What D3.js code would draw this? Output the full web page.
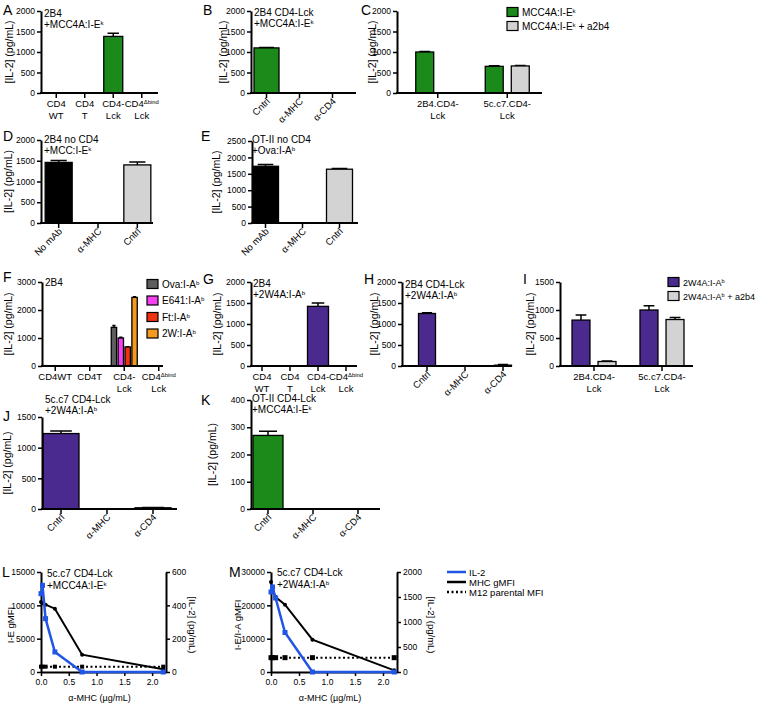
<!DOCTYPE html>
<html><head><meta charset="utf-8">
<script src="https://cdn.jsdelivr.net/npm/d3@7"></script>
<style>
body{margin:0;background:#fff}
svg{display:block}
text{font-family:"Liberation Sans",Arial,Helvetica,sans-serif;fill:#000}
</style>
</head><body><script>
// ---------------- DATA ----------------
const catsTcell = ["CD4|WT","CD4|T","CD4-|Lck","CD4{Δbind}|Lck"];
const catsTcellF = ["CD4WT","CD4T","CD4-|Lck","CD4{Δbind}|Lck"];
const catsAb = ["Cntrl","α-MHC","α-CD4"];
const catsNoCD4 = ["No mAb","α-MHC","Cntrl"];
const catsLines = ["2B4.CD4-|Lck","5c.c7.CD4-|Lck"];

const il2A = [0,0,1380,0],     errA = [0,0,80,0];
const il2B = [1100,0,0],       errB = [8,0,0];
const il2C_mcc = [1000,650],   errC_mcc = [10,15];
const il2C_a2b4 = [0,660],     errC_a2b4 = [0,10];
const seriesC = ["MCC4A:I-E{k}","MCC4A:I-E{k} + a2b4"];
const il2D = [1460,0,1400],    errD = [45,0,70];
const il2E = [1730,0,1640],    errE = [50,0,20];
const seriesF = ["Ova:I-A{b}","E641:I-A{b}","Ft:I-A{b}","2W:I-A{b}"];
const il2F_ova = [15,0,1380,0],  errF_ova = [0,0,70,0];
const il2F_e641 = [0,0,1000,0],  errF_e641 = [0,0,30,0];
const il2F_ft = [0,0,680,0],     errF_ft = [0,0,10,0];
const il2F_2w = [0,0,2450,0],    errF_2w = [0,0,20,0];
const il2G = [0,0,1420,0],     errG = [0,0,80,0];
const il2H = [1250,0,20],      errH = [15,0,15];
const seriesI = ["2W4A:I-A{b}","2W4A:I-A{b} + a2b4"];
const il2I_2w = [820,1000],    errI_2w = [90,75];
const il2I_a2b4 = [80,830],    errI_a2b4 = [10,35];
const il2J = [1230,5,20],      errJ = [40,0,5];
const il2K = [270,0,0],        errK = [15,0,0];

const doses = [0,0.027,0.082,0.25,0.74,2.2];
const xTicksDose = [0,0.5,1.0,1.5,2.0];
const L_il2 = [470,520,320,120,0,0];
const L_mhc = [10500,10300,10100,9500,2600,400];
const L_m12 = [800,800,800,800,800,800];
const M_il2 = [1600,1700,1480,790,0,0];
const M_mhc = [27000,24500,22500,20200,9700,500];
const M_m12 = [4300,4300,4300,4300,4300,4300];
const legendM = ["IL-2","MHC gMFI","M12 parental MFI"];

// ---------------- STYLE ----------------
const GREEN="#1b8a1b", GREY="#d3d3d3", BLACK="#000", PURPLE="#4a2a8e",
      DGREY="#5d5d5d", MAGENTA="#f540f2", RED="#ef3210", ORANGE="#f59a1e", BLUE="#2155e6";

const W=760,H=704;
const svg=d3.select("body").append("svg").attr("width",W).attr("height",H);

function rich(t,str){
  str.split(/(\{[^}]*\})/).filter(s=>s).forEach(p=>{
    if(p[0]==="{") t.append("tspan").attr("baseline-shift","super").attr("font-size","62%").text(p.slice(1,-1));
    else t.append("tspan").text(p);
  });
  return t;
}
function txt(x,y,str,size,anchor){
  const t=svg.append("text").attr("x",x).attr("y",y).attr("font-size",size).attr("text-anchor",anchor||"start");
  return rich(t,str);
}

function barPanel(p){
  const g=svg.append("g");
  const y=d3.scaleLinear().domain([0,p.max]).range([p.y0,p.yTop]);
  const x=d3.scaleBand().domain(d3.range(p.cats.length)).range(p.xr);
  const nS=p.series.length;
  const xs=d3.scaleBand().domain(d3.range(nS)).range(p.inner||[0,0]).paddingInner(p.innerPad||0);
  const cxOf=(i,si)=>x(i)+x.bandwidth()/2+(nS>1?xs(si)+xs.bandwidth()/2:0);
  const bw=nS>1?xs.bandwidth():p.barW;
  p.series.forEach((s,si)=>{
    const d=s.values.map((v,i)=>({v,e:s.errors[i],i}));
    const col=i=>Array.isArray(s.color)?s.color[i]:s.color;
    g.selectAll(null).data(d.filter(o=>o.e>0)).join("path")
      .attr("d",o=>{const cx=cxOf(o.i,si),cw=bw*0.3;
        return `M${cx},${y(o.v)}V${y(o.v+o.e)}M${cx-cw},${y(o.v+o.e)}H${cx+cw}`;})
      .attr("stroke","#000").attr("stroke-width",1.5).attr("fill","none");
    g.selectAll(null).data(d.filter(o=>o.v>0)).join("rect")
      .attr("x",o=>cxOf(o.i,si)-bw/2).attr("width",bw)
      .attr("y",o=>y(o.v)).attr("height",o=>p.y0-y(o.v))
      .attr("fill",o=>col(o.i)).attr("stroke","#000").attr("stroke-width",1.3);
  });
  const ya=g.append("g").attr("transform",`translate(${p.x0},0)`)
    .call(d3.axisLeft(y).tickValues(d3.range(0,p.max+1e-6,p.step)).tickSize(4).tickSizeOuter(0).tickPadding(2).tickFormat(d3.format("d")));
  ya.attr("font-size",8.5);
  ya.select(".domain").attr("stroke-width",2);
  ya.selectAll(".tick line").attr("stroke-width",1.5);
  g.append("line").attr("x1",p.x0-1).attr("x2",p.xEnd).attr("y1",p.y0).attr("y2",p.y0).attr("stroke","#000").attr("stroke-width",2);
  g.selectAll(null).data(p.cats).join("line")
    .attr("x1",(c,i)=>x(i)+x.bandwidth()/2).attr("x2",(c,i)=>x(i)+x.bandwidth()/2)
    .attr("y1",p.y0).attr("y2",p.y0+5).attr("stroke","#000").attr("stroke-width",1.5);
  p.cats.forEach((c,i)=>{
    const cx=x(i)+x.bandwidth()/2;
    if(p.rot){
      const t=svg.append("text").attr("font-size",9.5).attr("text-anchor","end")
        .attr("transform",`translate(${cx+4},${p.y0+9}) rotate(-45)`);
      rich(t,c);
    } else {
      c.split("|").forEach((ln,k)=>txt(cx,p.y0+14+k*11.5,ln,9.5,"middle"));
    }
  });
  svg.append("text").attr("font-size",10.5).attr("text-anchor","middle").attr("dominant-baseline","central")
    .attr("transform",`translate(${p.ylx},${(p.y0+p.yTop)/2}) rotate(-90)`).text("[IL-2] (pg/mL)");
  txt(p.lx,p.ly,p.letter,14);
  (p.title||[]).forEach((ln,k)=>txt(p.tx,p.ty+k*11,ln,10));
  if(p.legend){
    p.legend.items.forEach((it,k)=>{
      const yy=p.legend.y+k*p.legend.dy;
      svg.append("rect").attr("x",p.legend.x).attr("y",yy-4.5).attr("width",11).attr("height",9)
        .attr("fill",it.color).attr("stroke","#000").attr("stroke-width",1.2);
      txt(p.legend.x+15,yy+3.5,it.name,p.legend.fs||10);
    });
  }
}

barPanel({letter:"A",lx:3,ly:15,x0:41,xEnd:158,y0:93,yTop:11,max:2000,step:500,xr:[42,156],barW:19,
  cats:catsTcell,series:[{values:il2A,errors:errA,color:GREEN}],ylx:9,title:["2B4","+MCC4A:I-E{k}"],tx:44,ty:17});
barPanel({letter:"B",lx:203,ly:15,x0:251,xEnd:356,y0:93,yTop:11,max:2000,step:500,xr:[250,349],barW:25,rot:true,
  cats:catsAb,series:[{values:il2B,errors:errB,color:GREEN}],ylx:223,title:["2B4 CD4-Lck","+MCC4A:I-E{k}"],tx:254,ty:16});
barPanel({letter:"C",lx:361,ly:15,x0:397,xEnd:542,y0:93,yTop:11,max:2000,step:500,xr:[403,542],inner:[-22,22],innerPad:0.31,
  cats:catsLines,series:[{values:il2C_mcc,errors:errC_mcc,color:GREEN},{values:il2C_a2b4,errors:errC_a2b4,color:GREY}],ylx:372,
  legend:{x:507,y:12,dy:14,items:[{name:seriesC[0],color:GREEN},{name:seriesC[1],color:GREY}]}});
barPanel({letter:"D",lx:3,ly:141,x0:41,xEnd:153,y0:223,yTop:140,max:2000,step:500,xr:[39,157],barW:27,rot:true,
  cats:catsNoCD4,series:[{values:il2D,errors:errD,color:[BLACK,BLACK,GREY]}],ylx:8,title:["2B4 no CD4","+MCC:I-E{k}"],tx:44,ty:143});
barPanel({letter:"E",lx:201,ly:141,x0:252,xEnd:358,y0:223,yTop:141,max:2500,step:500,xr:[247,358],barW:26,rot:true,
  cats:catsNoCD4,series:[{values:il2E,errors:errE,color:[BLACK,BLACK,GREY]}],ylx:216,title:["OT-II no CD4","+Ova:I-A{b}"],tx:252,ty:143});
barPanel({letter:"F",lx:3,ly:282,x0:42,xEnd:163,y0:366,yTop:282,max:3000,step:1000,xr:[38,176],inner:[-13,13],innerPad:0.22,
  cats:catsTcellF,series:[{values:il2F_ova,errors:errF_ova,color:DGREY},{values:il2F_e641,errors:errF_e641,color:MAGENTA},
    {values:il2F_ft,errors:errF_ft,color:RED},{values:il2F_2w,errors:errF_2w,color:ORANGE}],ylx:8,title:["2B4"],tx:45,ty:286,
  legend:{x:147,y:284,dy:16.5,items:seriesF.map((n,i)=>({name:n,color:[DGREY,MAGENTA,RED,ORANGE][i]}))}});
barPanel({letter:"G",lx:203,ly:284,x0:251,xEnd:357,y0:366,yTop:282,max:2000,step:500,xr:[248,360],barW:21,
  cats:catsTcell,series:[{values:il2G,errors:errG,color:PURPLE}],ylx:217,title:["2B4","+2W4A:I-A{b}"],tx:253,ty:287});
barPanel({letter:"H",lx:364,ly:284,x0:402,xEnd:512,y0:366,yTop:282,max:2000,step:500,xr:[408,522],barW:17,rot:true,
  cats:catsAb,series:[{values:il2H,errors:errH,color:PURPLE}],ylx:374,title:["2B4 CD4-Lck","+2W4A:I-A{b}"],tx:405,ty:288});
barPanel({letter:"I",lx:523,ly:284,x0:560,xEnd:693,y0:366,yTop:282,max:1500,step:500,xr:[560,696],inner:[-22,22],innerPad:0.31,
  cats:catsLines,series:[{values:il2I_2w,errors:errI_2w,color:PURPLE},{values:il2I_a2b4,errors:errI_a2b4,color:GREY}],ylx:530,
  legend:{x:668,y:282,dy:14,fs:9,items:[{name:seriesI[0],color:PURPLE},{name:seriesI[1],color:GREY}]}});
barPanel({letter:"J",lx:3,ly:421,x0:42,xEnd:177,y0:509,yTop:417,max:1500,step:500,xr:[38,176],barW:36,rot:true,
  cats:catsAb,series:[{values:il2J,errors:errJ,color:PURPLE}],ylx:7,title:["5c.c7 CD4-Lck","+2W4A:I-A{b}"],tx:45,ty:403});
barPanel({letter:"K",lx:201,ly:405,x0:251,xEnd:380,y0:509,yTop:400,max:400,step:100,xr:[245.5,380.5],barW:30,rot:true,
  cats:catsAb,series:[{values:il2K,errors:errK,color:GREEN}],ylx:212,title:["OT-II CD4-Lck","+MCC4A:I-E{k}"],tx:252,ty:402});

function linePanel(p){
  const g=svg.append("g");
  const x=d3.scaleLinear().domain([0,2.25]).range([p.x0,p.x1]);
  const yl=d3.scaleLinear().domain([0,p.lmax]).range([p.y0,p.yTop]);
  const yr=d3.scaleLinear().domain([0,p.rmax]).range([p.y0,p.yTop]);
  const styleAx=(a)=>{a.attr("font-size",8.5);a.select(".domain").attr("stroke-width",2);a.selectAll(".tick line").attr("stroke-width",1.5);};
  styleAx(g.append("g").attr("transform",`translate(${p.x0},0)`)
    .call(d3.axisLeft(yl).tickValues(d3.range(0,p.lmax+1,p.lstep)).tickSize(4).tickSizeOuter(0).tickPadding(2).tickFormat(d3.format("d"))));
  styleAx(g.append("g").attr("transform",`translate(${p.x1},0)`)
    .call(d3.axisRight(yr).tickValues(d3.range(0,p.rmax+1,p.rstep)).tickSize(4).tickSizeOuter(0).tickPadding(2).tickFormat(d3.format("d"))));
  styleAx(g.append("g").attr("transform",`translate(0,${p.y0})`)
    .call(d3.axisBottom(x).tickValues(xTicksDose).tickSize(4).tickSizeOuter(0).tickPadding(3).tickFormat(d3.format(".1f"))));
  const lineL=d3.line().x((d,i)=>x(doses[i])).y(d=>yl(d));
  const lineR=d3.line().x((d,i)=>x(doses[i])).y(d=>yr(d));
  g.append("path").attr("d",lineL(p.m12)).attr("fill","none").attr("stroke","#000").attr("stroke-width",2).attr("stroke-dasharray","2,2.5");
  g.selectAll(null).data(p.m12).join("rect").attr("x",(d,i)=>x(doses[i])-p.ms/2).attr("y",d=>yl(d)-p.ms/2)
    .attr("width",p.ms).attr("height",p.ms).attr("fill","#000");
  g.append("path").attr("d",lineL(p.mhc)).attr("fill","none").attr("stroke","#000").attr("stroke-width",2);
  g.selectAll(null).data(p.mhc).join("circle").attr("cx",(d,i)=>x(doses[i])).attr("cy",d=>yl(d)).attr("r",2).attr("fill","#000");
  g.append("path").attr("d",lineR(p.il2)).attr("fill","none").attr("stroke",BLUE).attr("stroke-width",2.5);
  g.selectAll(null).data(p.il2).join("rect").attr("x",(d,i)=>x(doses[i])-2.5).attr("y",d=>yr(d)-2.5)
    .attr("width",5).attr("height",5).attr("fill",BLUE);
  txt(p.lx,p.ly,p.letter,14);
  p.title.forEach((ln,k)=>txt(p.tx,p.ty+k*12,ln,10));
  svg.append("text").attr("font-size",9).attr("text-anchor","middle").attr("x",(p.x0+p.x1)/2-4).attr("y",p.y0+29).text("α-MHC (µg/mL)");
  svg.append("text").attr("font-size",9.5).attr("text-anchor","middle").attr("dominant-baseline","central")
    .attr("transform",`translate(${p.ylx},${(p.y0+p.yTop)/2+3}) rotate(-90)`).text(p.ylab);
  svg.append("text").attr("font-size",9.5).attr("text-anchor","middle").attr("dominant-baseline","central")
    .attr("transform",`translate(${p.yrx},${(p.y0+p.yTop)/2+3}) rotate(90)`).text("[IL-2] (pg/mL)");
}
linePanel({letter:"L",lx:2,ly:577,x0:41,x1:166,y0:672,yTop:572,lmax:15000,lstep:5000,rmax:600,rstep:200,ms:4,
  il2:L_il2,mhc:L_mhc,m12:L_m12,title:["5c.c7 CD4-Lck","+MCC4A:I-E{k}"],tx:47,ty:577,ylx:10,yrx:192,ylab:"I-E gMFI"});
linePanel({letter:"M",lx:229,ly:577,x0:271,x1:397,y0:672,yTop:572,lmax:30000,lstep:10000,rmax:2000,rstep:500,ms:5,
  il2:M_il2,mhc:M_mhc,m12:M_m12,title:["5c.c7 CD4-Lck","+2W4A:I-A{b}"],tx:277,ty:576,ylx:237,yrx:431,ylab:"I-E/I-A gMFI"});

const legX=447;
[[BLUE,null,2.5],["#000",null,2.5],["#000","2,2.5",2.5]].forEach((s,k)=>{
  const yy=572+k*10;
  svg.append("line").attr("x1",legX).attr("x2",legX+19).attr("y1",yy).attr("y2",yy)
    .attr("stroke",s[0]).attr("stroke-width",s[2]).attr("stroke-dasharray",s[1]);
  txt(legX+22,yy+3.5,legendM[k],9.5);
});
</script></body></html>
